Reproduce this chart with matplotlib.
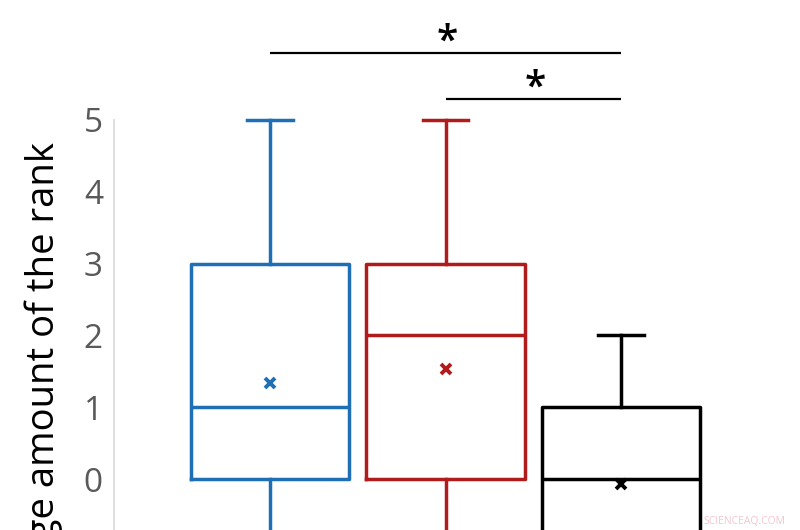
import matplotlib
matplotlib.use("Agg")
import matplotlib.pyplot as plt

# box statistics per group (lower parts fall outside the cropped view)
groups = ["A", "B", "C"]
colors = ["#1f6fb5", "#b01c1c", "#000000"]
medians = [1, 2, 0]
q1 = [0, 0, -1]
q3 = [3, 3, 1]
whisker_low = [-2, -2, -3]
whisker_high = [5, 5, 2]
means = [1.34, 1.53, -0.07]

# significance brackets: (start group, end group, height)
brackets = [(1, 3, 5.93), (2, 3, 5.29)]
yticks = [0, 1, 2, 3, 4, 5]

plt.rcParams["font.family"] = ["Open Sans", "DejaVu Sans"]

fig = plt.figure(figsize=(8, 5.3), dpi=100)
ax = fig.add_axes([114 / 800, 0, 1 - 114 / 800, 1])

positions = [1, 2, 3]
for i, pos in enumerate(positions):
    stats = [{
        "med": medians[i], "q1": q1[i], "q3": q3[i],
        "whislo": whisker_low[i], "whishi": whisker_high[i],
        "mean": means[i], "fliers": [],
    }]
    c = colors[i]
    lw = 2.5
    ax.bxp(stats, positions=[pos], widths=0.905, showmeans=True,
           boxprops=dict(color=c, linewidth=lw),
           medianprops=dict(color=c, linewidth=lw),
           whiskerprops=dict(color=c, linewidth=lw),
           capprops=dict(color=c, linewidth=lw),
           capwidths=0.26,
           meanprops=dict(marker="x", markeredgecolor=c, markersize=7.5,
                          markeredgewidth=2.8))

for start, end, h in brackets:
    ax.plot([start, end], [h, h], color="black", linewidth=1.6,
            solid_capstyle="butt")
    ax.text((start + end) / 2 + 0.01, h - 0.13, "*", ha="center",
            va="bottom", fontsize=28, color="black", fontweight="semibold")

ax.set_xlim(0.111, 4.02)
ax.set_ylim(-0.71, 6.67)
ax.set_yticks(yticks)
ax.set_yticklabels([str(t) for t in yticks])
ax.tick_params(axis="y", length=0, pad=8, labelsize=24, labelcolor="#595959")
ax.set_xticks([])
for side in ["top", "right", "bottom"]:
    ax.spines[side].set_visible(False)
ax.spines["left"].set_color("#d9d9d9")
ax.spines["left"].set_linewidth(1.2)
ax.spines["left"].set_bounds(-0.71, 5)

fig.text(44 / 800, 1 - 142 / 530, "Average amount of the rank",
         rotation=90, rotation_mode="anchor", ha="right", va="center",
         fontsize=27.5, color="black")

fig.text(744 / 800, 1 - 521 / 530, "SCIENCEAQ.COM", ha="center",
         va="center", fontsize=7.5, color="#f4c6cc")

fig.savefig("out.png", dpi=100)
